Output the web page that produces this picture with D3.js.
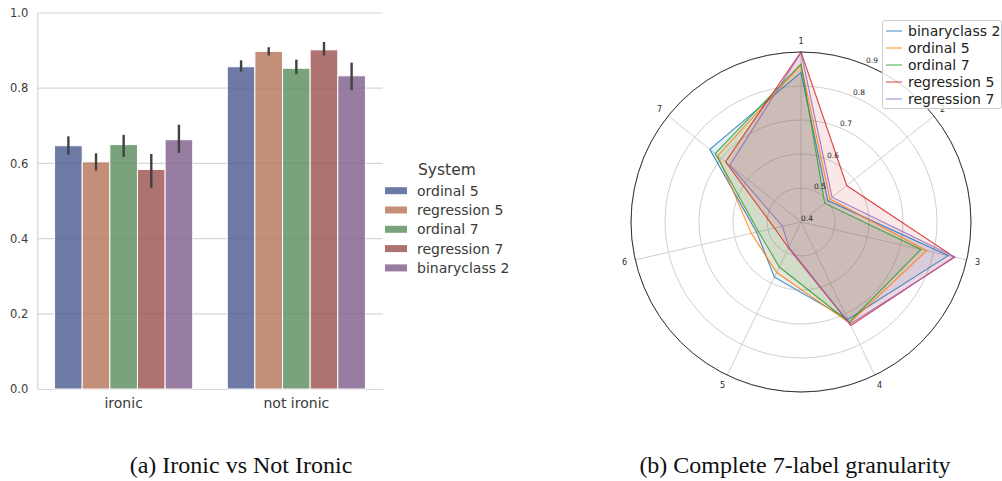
<!DOCTYPE html>
<html>
<head>
<meta charset="utf-8">
<script src="https://cdn.jsdelivr.net/npm/d3@7"></script>
<style>
  html, body { margin: 0; padding: 0; background: #fff; }
  svg { display: block; font-family: "DejaVu Sans", sans-serif; }
</style>
</head>
<body>
<svg id="chart" width="1002" height="481"></svg>
<script>
// ---------- Data: (a) bar chart ----------
const groups = ["ironic", "not ironic"];
const systems = ["ordinal 5", "regression 5", "ordinal 7", "regression 7", "binaryclass 2"];
const barColors = ["#47598f", "#b47356", "#598c5a", "#9a4f4c", "#7d5c8a"];
const meanIronic = [0.647, 0.604, 0.650, 0.584, 0.663];
const meanNotIronic = [0.857, 0.898, 0.853, 0.902, 0.833];
const lowIronic = [0.623, 0.581, 0.617, 0.535, 0.628];
const highIronic = [0.672, 0.627, 0.676, 0.625, 0.703];
const lowNotIronic = [0.844, 0.887, 0.837, 0.887, 0.795];
const highNotIronic = [0.874, 0.909, 0.876, 0.923, 0.868];
const yTicks = [0.0, 0.2, 0.4, 0.6, 0.8, 1.0];

// ---------- Data: (b) radar chart ----------
const radarAxes = ["1", "2", "3", "4", "5", "6", "7"];
const radarSeries = ["binaryclass 2", "ordinal 5", "ordinal 7", "regression 5", "regression 7"];
const radarColors = ["#1f77b4", "#ff7f0e", "#2ca02c", "#d62728", "#9467bd"];
const binaryclass2 = [0.840, 0.501, 0.844, 0.718, 0.580, 0.534, 0.743];
const ordinal5 = [0.862, 0.509, 0.779, 0.730, 0.565, 0.550, 0.713];
const ordinal7 = [0.865, 0.489, 0.762, 0.727, 0.547, 0.528, 0.723];
const regression5 = [0.900, 0.572, 0.862, 0.738, 0.485, 0.480, 0.684];
const regression7 = [0.898, 0.517, 0.865, 0.733, 0.482, 0.456, 0.668];
const radarTicks = [0.4, 0.5, 0.6, 0.7, 0.8, 0.9];

const captions = ["(a) Ironic vs Not Ironic", "(b) Complete 7-label granularity"];

const svg = d3.select("#chart");
svg.append("rect").attr("width", 1002).attr("height", 481).attr("fill", "#fff");

// ================= (a) Bar chart =================
const plotL = 37.3, plotR = 382.7, plotT = 13, plotB = 389;
const x0 = d3.scaleBand().domain(groups).range([plotL, plotR]).paddingInner(0.2).paddingOuter(0.1);
const x1 = d3.scaleBand().domain(systems).range([0, x0.bandwidth()]);
const y = d3.scaleLinear().domain([0, 1]).range([plotB, plotT]);
const color = d3.scaleOrdinal().domain(systems).range(barColors);

const gA = svg.append("g");
// grid
gA.append("g").selectAll("line").data(yTicks.filter(d => d > 0)).join("line")
  .attr("x1", plotL).attr("x2", plotR).attr("y1", d => y(d)).attr("y2", d => y(d))
  .attr("stroke", "#d6d6d6").attr("stroke-width", 1.2);
// y axis
const yAxis = d3.axisLeft(y).tickValues(yTicks).tickFormat(d3.format(".1f")).tickSize(0).tickPadding(9);
const yg = gA.append("g").attr("transform", `translate(${plotL},0)`).call(yAxis);
yg.select(".domain").attr("stroke", "#d6d6d6").attr("stroke-width", 1.2);
yg.selectAll("text").attr("font-size", 11.5).attr("fill", "#3a3a3a").style("font-family", "DejaVu Sans");
// x axis
const xAxis = d3.axisBottom(x0).tickSize(0).tickPadding(9);
const xg = gA.append("g").attr("transform", `translate(0,${plotB})`).call(xAxis);
xg.select(".domain").attr("stroke", "#d6d6d6").attr("stroke-width", 1.2);
xg.selectAll("text").attr("font-size", 14).attr("fill", "#3a3a3a").style("font-family", "DejaVu Sans");

const barData = [];
groups.forEach((g, gi) => {
  const means = gi === 0 ? meanIronic : meanNotIronic;
  const lows = gi === 0 ? lowIronic : lowNotIronic;
  const highs = gi === 0 ? highIronic : highNotIronic;
  systems.forEach((s, si) => barData.push({g, s, v: means[si], lo: lows[si], hi: highs[si]}));
});
gA.append("g").selectAll("rect").data(barData).join("rect")
  .attr("x", d => x0(d.g) + x1(d.s))
  .attr("width", x1.bandwidth())
  .attr("y", d => y(d.v))
  .attr("height", d => y(0) - y(d.v))
  .attr("fill", d => color(d.s))
  .attr("fill-opacity", 0.8)
  .attr("stroke", "#ffffff").attr("stroke-width", 1);
gA.append("g").selectAll("line").data(barData).join("line")
  .attr("x1", d => x0(d.g) + x1(d.s) + x1.bandwidth() / 2)
  .attr("x2", d => x0(d.g) + x1(d.s) + x1.bandwidth() / 2)
  .attr("y1", d => y(d.lo)).attr("y2", d => y(d.hi))
  .attr("stroke", "#424242").attr("stroke-width", 2.4);

// legend (a)
const legA = svg.append("g").attr("transform", "translate(385,0)");
legA.append("text").attr("x", 33).attr("y", 170).attr("dy", "0.35em")
  .attr("font-size", 15.5).attr("fill", "#3a3a3a").text("System");
const legAItems = legA.selectAll("g.item").data(systems).join("g")
  .attr("transform", (d, i) => `translate(0,${190.7 + i * 19.3})`);
legAItems.append("rect").attr("x", 0).attr("y", -3.5).attr("width", 22).attr("height", 7)
  .attr("fill", d => color(d)).attr("fill-opacity", 0.8);
legAItems.append("text").attr("x", 32).attr("dy", "0.35em").attr("font-size", 14)
  .attr("fill", "#3a3a3a").text(d => d);

// ================= (b) Radar chart =================
const cx = 801, cy = 222, R = 170;
const r = d3.scaleLinear().domain([0.4, 0.9]).range([0, R]);
const angle = d3.scaleBand().domain(radarAxes).range([0, 2 * Math.PI]).paddingInner(0).paddingOuter(0);
const ang = a => angle(a);
const pt = (a, rad) => [cx + rad * Math.sin(ang(a)), cy - rad * Math.cos(ang(a))];
const gB = svg.append("g");

// grid circles
gB.append("g").selectAll("circle").data(radarTicks.filter(d => d > 0.4)).join("circle")
  .attr("cx", cx).attr("cy", cy).attr("r", d => r(d))
  .attr("fill", "none").attr("stroke", "#d0d0d0").attr("stroke-width", 1);
// spokes
gB.append("g").selectAll("line").data(radarAxes).join("line")
  .attr("x1", cx).attr("y1", cy)
  .attr("x2", d => pt(d, R)[0]).attr("y2", d => pt(d, R)[1])
  .attr("stroke", "#d0d0d0").attr("stroke-width", 1);

// series polygons
const seriesData = [binaryclass2, ordinal5, ordinal7, regression5, regression7];
const line = d3.lineRadial().angle((d, i) => ang(radarAxes[i])).radius(d => r(d)).curve(d3.curveLinearClosed);
const polys = gB.append("g").attr("transform", `translate(${cx},${cy})`);
polys.selectAll("path.fill").data(seriesData).join("path").attr("class", "fill")
  .attr("d", d => line(d)).attr("fill", (d, i) => radarColors[i]).attr("fill-opacity", 0.11).attr("stroke", "none");
polys.selectAll("path.stroke").data(seriesData).join("path").attr("class", "stroke")
  .attr("d", d => line(d)).attr("fill", "none").attr("stroke", (d, i) => radarColors[i])
  .attr("stroke-opacity", 0.85).attr("stroke-width", 1.1).attr("stroke-linejoin", "miter");

// outer circle
gB.append("circle").attr("cx", cx).attr("cy", cy).attr("r", R)
  .attr("fill", "none").attr("stroke", "#333").attr("stroke-width", 1);

// radial tick labels at 22.5 deg
const la = 22.5 * Math.PI / 180;
gB.append("g").selectAll("text").data(radarTicks).join("text")
  .attr("x", d => cx + r(d) * Math.sin(la))
  .attr("y", d => cy - r(d) * Math.cos(la) - 1.5)
  .attr("font-size", 7.5).attr("fill", "#262626").text(d => d3.format(".1f")(d));

// category labels
gB.append("g").selectAll("text").data(radarAxes).join("text")
  .attr("x", d => pt(d, 181)[0]).attr("y", d => pt(d, 181)[1]).attr("dy", "0.35em")
  .attr("text-anchor", "middle").attr("font-size", 8).attr("fill", "#262626").text(d => d);

// legend (b)
const legB = svg.append("g");
legB.append("rect").attr("x", 882.5).attr("y", 20.5).attr("width", 119).attr("height", 88)
  .attr("rx", 2).attr("fill", "#fff").attr("fill-opacity", 0.8).attr("stroke", "#cccccc").attr("stroke-width", 1);
const legBItems = legB.selectAll("g.item").data(radarSeries).join("g")
  .attr("transform", (d, i) => `translate(886,${31 + i * 17})`);
legBItems.append("line").attr("x1", 0).attr("x2", 16).attr("y1", 0).attr("y2", 0)
  .attr("stroke", (d, i) => radarColors[i]).attr("stroke-opacity", 0.55).attr("stroke-width", 1.6);
legBItems.append("text").attr("x", 22).attr("dy", "0.35em").attr("font-size", 14)
  .attr("fill", "#222").text(d => d);

// captions
svg.append("g").selectAll("text").data(captions).join("text")
  .attr("x", (d, i) => i === 0 ? 241 : 795).attr("y", 473)
  .attr("text-anchor", "middle")
  .style("font-family", "'Liberation Serif', 'Times New Roman', serif")
  .attr("font-size", 24).attr("fill", "#111").text(d => d);
</script>
</body>
</html>
